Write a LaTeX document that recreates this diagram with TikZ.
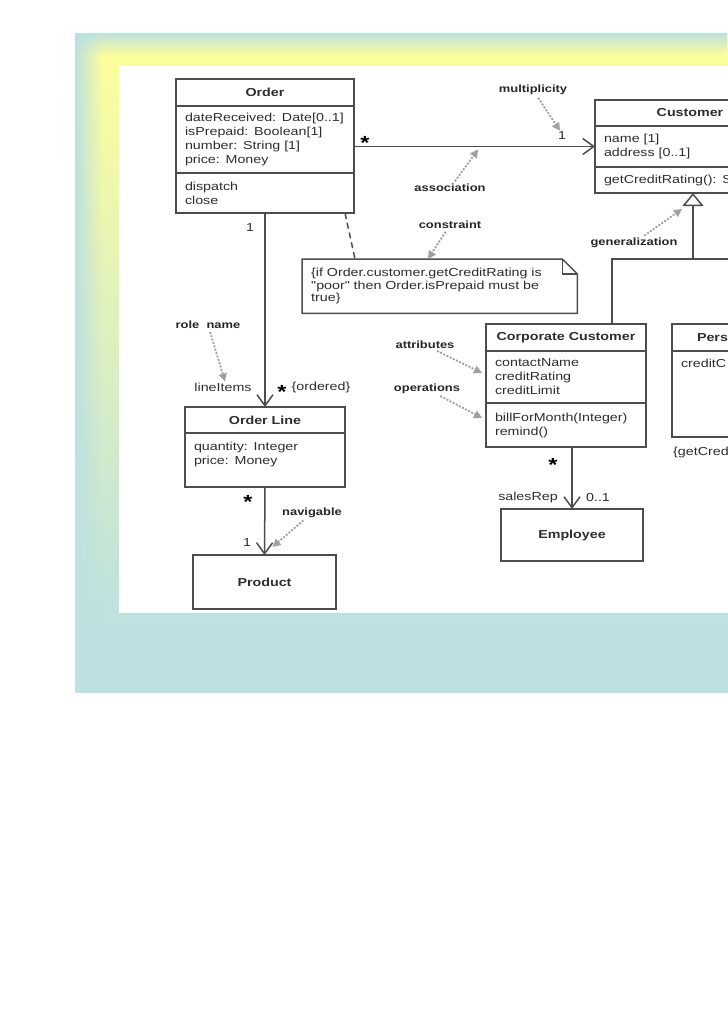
\documentclass[tikz,border=0pt]{standalone}
\usepackage{fontspec}
\newfontfamily\umlfont{Liberation Sans}[FakeStretch=1.23]
\usetikzlibrary{arrows.meta}
\usetikzlibrary{positioning}
\usetikzlibrary{fadings}

\definecolor{slideteal}{HTML}{BDE1E1}
\definecolor{slideyellow}{HTML}{FFFF99}
\definecolor{umlline}{HTML}{4D4D4D}
\definecolor{umltext}{HTML}{2E2E2E}
\definecolor{hintgray}{HTML}{A0A0A0}

\begin{document}
\begin{tikzpicture}[x=1pt, y=-1pt,
    box/.style={draw=umlline, line width=1.5pt, fill=white, inner sep=0pt, outer sep=0pt, text=umltext},
    head/.style={box, font=\umlfont\bfseries\fontsize{11.6}{14}\selectfont, minimum height=27},
    comp/.style={box, font=\umlfont\fontsize{11.6}{14}\selectfont, align=left, inner xsep=9},
    txt/.style={font=\umlfont\fontsize{11.6}{14}\selectfont, text=umltext, inner sep=1pt},
    tag/.style={font=\umlfont\bfseries\fontsize{10.5}{12}\selectfont, text=black!85, inner sep=1pt},
    many/.style={font=\umlfont\bfseries\fontsize{19}{19}\selectfont, text=black, inner sep=0pt},
    link/.style={draw=umlline, line width=1.5pt},
    nav/.style={link, -{Straight Barb[length=11pt, width=16pt]}},
    hint/.style={draw=hintgray, line width=1.8pt, dash pattern=on 2pt off 1.5pt, shorten <=2pt, -{Triangle[length=8pt, width=8pt]}}]

\useasboundingbox (0,0) rectangle (728,1031);
\shade[top color=slideyellow, bottom color=slideteal] (75,33) rectangle (728,630);
\fill[slideteal] (75,629) rectangle (728,693);
\fill[slideteal, path fading=east] (75,33) rectangle (102,693);
\fill[slideteal, path fading=south] (75,33) rectangle (728,56);
\fill[white] (119,66) rectangle (728,613);

\node[head, minimum width=178, anchor=north west] (order) at (176,79) {Order};
\node[comp, text width=160, minimum height=67, below=0pt of order] (order-attr) {dateReceived: Date[0..1]\\isPrepaid: Boolean[1]\\number: String [1]\\price: Money};
\node[comp, text width=160, minimum height=40, below=0pt of order-attr] (order-ops) {dispatch\\close};

\node[head, minimum width=190, minimum height=26, anchor=north west] (cust) at (595,100) {Customer};
\node[comp, text width=172, minimum height=41, below=0pt of cust] (cust-attr) {name [1]\\address [0..1]};
\node[comp, text width=172, minimum height=26, below=0pt of cust-attr] (cust-ops) {getCreditRating(): S};

\node[head, minimum width=160, minimum height=26, anchor=north west] (line) at (185,407) {Order Line};
\node[comp, text width=142, minimum height=54, below=0pt of line] (line-attr) {quantity: Integer\\price: Money\\~};
\node[head, minimum width=143, minimum height=54, anchor=north west] (product) at (193,555) {Product};

\node[head, minimum width=160, anchor=north west] (corp) at (486,324) {Corporate Customer};
\node[comp, text width=142, minimum height=52, below=0pt of corp] (corp-attr) {contactName\\creditRating\\creditLimit};
\node[comp, text width=142, minimum height=44, below=0pt of corp-attr] (corp-ops) {billForMonth(Integer)\\remind()};
\node[head, minimum width=142, minimum height=52, anchor=north west] (employee) at (501,509) {Employee};

\node[head, text width=140, inner xsep=25, align=left, anchor=north west] (pers) at (672,324) {Pers};
\node[comp, text width=172, text height=16, text depth=70, below=0pt of pers] (pers-attr) {creditC};
\node[txt, anchor=west] (pers-rule) at (672,452) {\{getCredi};

\node[txt, anchor=north west, text width=257, inner xsep=9, inner ysep=0pt, minimum height=54, align=left, font=\umlfont\fontsize{11.6}{12.5}\selectfont] (note) at (302,259) {\{if Order.customer.getCreditRating is\\"poor" then Order.isPrepaid must be\\true\}};
\draw[link] (note.north west) -- ([xshift=-15pt]note.north east) -- ([yshift=-15pt]note.north east) -- (note.south east) -- (note.south west) -- cycle;
\draw[link] ([xshift=-15pt]note.north east) |- ([yshift=-15pt]note.north east);
\draw[link, dash pattern=on 6pt off 4pt] ([xshift=80pt]order-ops.south) -- ([xshift=53pt]note.north west);

\draw[nav] (order-attr.east |- cust-attr.west) -- coordinate[pos=0.515] (assoc-mid) (cust-attr.west);
\draw[nav] (order-ops.south) -- (line.north);
\draw[nav] (line-attr.south) -- (product.north);
\draw[nav] (employee.north |- corp-ops.south) -- (employee.north);
\coordinate (hub) at (693,259);
\draw[link] ([xshift=46pt]corp.north) |- (hub) -| (pers.north);
\draw[link, -{Triangle[open, length=13pt, width=21pt]}] (hub) -- (hub |- cust-ops.south);

\node[many] (order-many) at (365,143) {*};
\node[txt] (cust-one) at (562,136) {1};
\node[txt] (order-one) at (250,228) {1};
\node[txt] (items) at (223,387) {lineItems};
\node[many] (items-many) at (282,392) {*};
\node[txt] (ordered) at (321,387) {\{ordered\}};
\node[many] (line-many) at (248,502) {*};
\node[txt] (product-one) at (247,543) {1};
\node[many] (corp-many) at (553,465) {*};
\node[txt] (rep) at (528,497) {salesRep};
\node[txt] (rep-range) at (598,497) {0..1};

\node[tag] (mult) at (533,90) {multiplicity};
\node[tag] (assoc) at (450,188) {association};
\node[tag] (constr) at (450,225) {constraint};
\node[tag] (gen) at (634,243) {generalization};
\node[tag] (role) at (208,325) {role\ \ name};
\node[tag] (attr-tag) at (425,345) {attributes};
\node[tag] (ops-tag) at (427,389) {operations};
\node[tag] (nav-tag) at (312,513) {navigable};

\draw[hint] (mult) -- ([xshift=-2pt]cust-one.north);
\draw[hint] (assoc) -- ([yshift=-3pt]assoc-mid);
\draw[hint] (constr) -- ([xshift=126pt]note.north west);
\draw[hint] (gen) -- ([xshift=-8pt, yshift=-16pt]cust-ops.south);
\draw[hint] (role) -- ([xshift=2pt]items.north);
\draw[hint] (attr-tag) -- ([xshift=-4pt, yshift=4pt]corp-attr.west);
\draw[hint] (ops-tag) -- ([xshift=-4pt, yshift=7pt]corp-ops.west);
\draw[hint] (nav-tag) -- ([xshift=8pt, yshift=8pt]product.north);

\end{tikzpicture}
\end{document}
